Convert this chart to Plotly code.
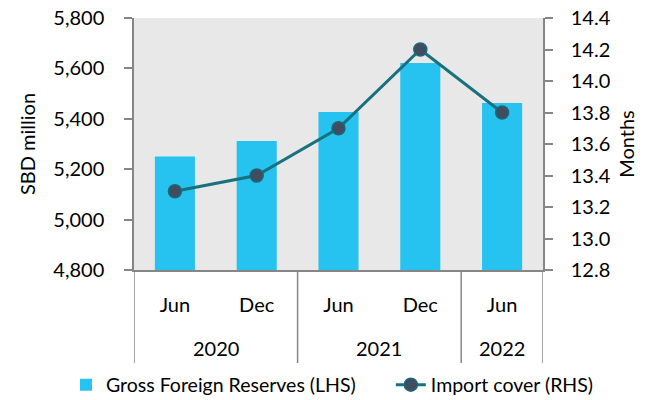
import plotly.graph_objects as go

# Data
years = ["2020", "2020", "2021", "2021", "2022"]
months = ["Jun", "Dec", "Jun", "Dec", "Jun"]
reserves = [5250, 5312, 5427, 5621, 5463]      # SBD million (LHS)
import_cover = [13.3, 13.4, 13.7, 14.2, 13.8]  # months (RHS)

_FONT = "Lato, 'Open Sans', sans-serif"
_AXIS = "#868686"

positions = list(range(len(months)))

fig = go.Figure()

fig.add_trace(
    go.Bar(
        x=positions,
        y=reserves,
        name="Gross Foreign Reserves (LHS)",
        marker_color="#27c3f0",
        marker_line_width=0,
        legend="legend",
        showlegend=True,
    )
)

fig.add_trace(
    go.Scatter(
        x=positions,
        y=import_cover,
        name="Import cover (RHS)",
        mode="lines+markers",
        yaxis="y2",
        line={"color": "#19707f", "width": 3},
        marker={"size": 13, "color": "#424c60",
                "line": {"color": "#1d6878", "width": 1.5}},
        legend="legend2",
        showlegend=True,
    )
)

# Year groups: label under the middle of each group, divider at boundaries
groups = []
for i, yr in enumerate(years):
    if groups and groups[-1][0] == yr:
        groups[-1][2] = i
    else:
        groups.append([yr, i, i])

bounds = [groups[0][1] - 0.5] + [g[2] + 0.5 for g in groups]
for b in bounds:
    fig.add_shape(
        type="line", xref="x", yref="paper",
        x0=b, x1=b, y0=0, y1=-0.369,
        line={"color": _AXIS, "width": 1.5},
    )
for yr, first, last in groups:
    fig.add_annotation(
        x=(first + last) / 2, y=-0.31, xref="x", yref="paper",
        text=yr, showarrow=False, yanchor="middle",
        font={"size": 20},
    )

# one legend per trace so both sit on a single row at the bottom
_legend = {
    "orientation": "h",
    "xref": "container",
    "yref": "container",
    "xanchor": "left",
    "y": 0.088,
    "yanchor": "top",
    "font": {"size": 19.5},
}

# page body has an 8px margin, so the figure is sized to the remaining view
fig.update_layout(
    width=637,
    height=392,
    showlegend=True,
    paper_bgcolor="white",
    plot_bgcolor="#e8e8e8",
    font={"family": _FONT, "size": 20, "color": "#000000"},
    margin={"l": 126, "r": 102, "t": 10, "b": 130},
    bargap=0.51,
    legend={**_legend, "x": 0.091},
    legend2={**_legend, "x": 0.601},
    xaxis={
        "range": [-0.5, len(months) - 0.5],
        "tickmode": "array",
        "tickvals": positions,
        "ticktext": months,
        "showline": True,
        "linecolor": _AXIS,
        "linewidth": 1.5,
        "showgrid": False,
        "ticks": "",
        "ticklabelstandoff": 16,
        "automargin": False,
        "zeroline": False,
    },
    yaxis={
        "title": {"text": "SBD million", "standoff": 12, "font": {"size": 20}},
        "range": [4800, 5800],
        "dtick": 200,
        "tickformat": ",",
        "showline": True,
        "linecolor": _AXIS,
        "linewidth": 1.5,
        "ticks": "outside",
        "ticklen": 8,
        "tickcolor": _AXIS,
        "tickwidth": 1.5,
        "ticklabelstandoff": 16,
        "ticklabeloverflow": "allow",
        "showgrid": False,
        "zeroline": False,
        "automargin": False,
    },
    yaxis2={
        "title": {"text": "Months", "standoff": 10, "font": {"size": 20}},
        "overlaying": "y",
        "side": "right",
        "range": [12.8, 14.4],
        "dtick": 0.2,
        "tickformat": ".1f",
        "showline": True,
        "linecolor": _AXIS,
        "linewidth": 1.5,
        "ticks": "outside",
        "ticklen": 8,
        "tickcolor": _AXIS,
        "tickwidth": 1.5,
        "ticklabelstandoff": 14,
        "ticklabeloverflow": "allow",
        "showgrid": False,
        "zeroline": False,
        "automargin": False,
    },
)

fig.write_html("out.html")
